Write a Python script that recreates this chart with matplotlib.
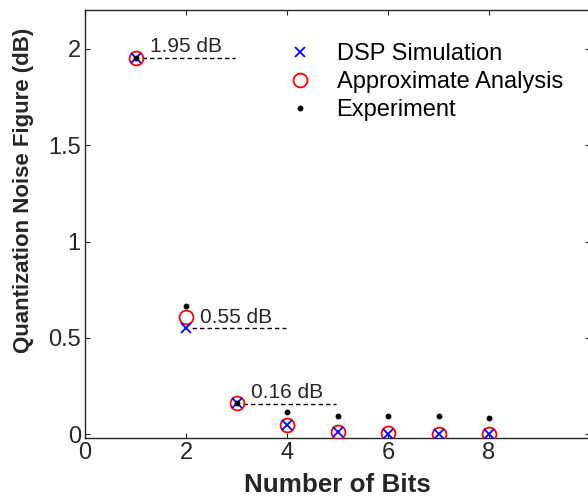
import matplotlib
matplotlib.use("Agg")
import matplotlib.pyplot as plt

# Quantization noise figure versus ADC resolution
bits = [1, 2, 3, 4, 5, 6, 7, 8]
dsp_sim = [1.95, 0.55, 0.165, 0.047, 0.013, 0.004, 0.001, 0.0]
approx = [1.95, 0.61, 0.165, 0.048, 0.014, 0.005, 0.002, 0.0005]
experiment = [1.95, 0.668, 0.165, 0.114, 0.095, 0.095, 0.095, 0.083]

# Annotated values: (bits, noise figure in dB)
annotated = [(1, 1.95), (2, 0.55), (3, 0.16)]

xticks = [0, 2, 4, 6, 8]
yticks = [0, 0.5, 1, 1.5, 2]
ytick_labels = ["0", "0.5", "1", "1.5", "2"]

plt.rcParams["font.family"] = ["Liberation Sans", "DejaVu Sans"]
dark = "#262626"

W, H = 588, 498
fig = plt.figure(figsize=(W / 100, H / 100), dpi=100)
ax = fig.add_axes([85 / W, (H - 438.3) / H, 505 / W, 428.3 / H])

ax.plot(bits, experiment, linestyle="none", marker="o", ms=3.2,
        color="black", label="Experiment", zorder=5)
ax.plot(bits, approx, linestyle="none", marker="o", ms=10, mfc="none",
        mec="red", mew=1.3, label="Approximate Analysis", zorder=3)
ax.plot(bits, dsp_sim, linestyle="none", marker="x", ms=7.5,
        color="blue", mew=1.3, label="DSP Simulation", zorder=4)

for b, v in annotated:
    ax.plot([b + 0.12, b + 1.98], [v, v], linestyle=(0, (3.2, 2.2)),
            color="black", lw=1.0, zorder=2)
    ax.text(b + 0.28, v + 0.03, f"{v:.2f} dB", fontsize=15, color=dark,
            ha="left", va="baseline")

ax.set_xlim(0, 10)
ax.set_ylim(-0.02, 2.2)
ax.set_xticks(xticks)
ax.set_yticks(yticks)
ax.set_yticklabels(ytick_labels)
ax.tick_params(direction="in", length=3.5, width=0.8, top=True, right=True,
               labelsize=17, colors=dark, pad=3)
for s in ax.spines.values():
    s.set_color(dark)
    s.set_linewidth(1.0)

ax.set_xlabel("Number of Bits", fontsize=18.7, fontweight="bold",
              color=dark, labelpad=6)
ax.set_ylabel("Quantization Noise Figure (dB)", fontsize=16,
              fontweight="bold", color=dark)
ax.yaxis.set_label_coords(-0.101, 0.58)

handles, labels = ax.get_legend_handles_labels()
order = [2, 1, 0]
leg = ax.legend([handles[i] for i in order], [labels[i] for i in order],
                loc="upper left", bbox_to_anchor=(0.378, 0.95),
                frameon=False, fontsize=17, handlelength=1.0,
                handletextpad=1.07, borderpad=0, labelspacing=0.26)
for t in leg.get_texts():
    t.set_color("black")

fig.savefig("out.png", dpi=100)
